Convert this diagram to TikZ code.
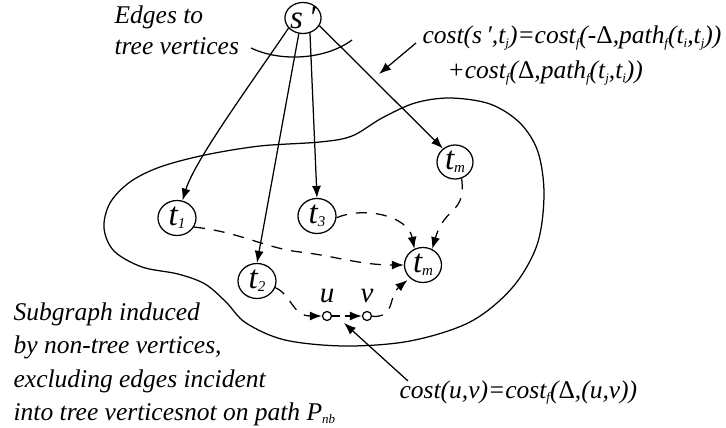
\documentclass[tikz,border=0pt]{standalone}
\usepackage{fontspec}
\setmainfont{Liberation Serif}
\usetikzlibrary{arrows.meta,shapes.geometric}
% small lowered index, as in t_i or cost_f
\newcommand\lsub[1]{\raisebox{-0.12em}{\fontsize{13}{13}\selectfont #1}}
\newcommand\nsub[1]{\raisebox{-0.1em}{\fontsize{15}{15}\selectfont #1}}
\newcommand\updelta{{\upshape Δ}}
\begin{document}
\begin{tikzpicture}[x=1pt,y=-1pt,line width=1.25pt,
  tv/.style={draw, ellipse, minimum width=38pt, minimum height=35pt, inner sep=0pt,
             font=\fontsize{33}{33}\selectfont\itshape},
  sm/.style={draw, circle, minimum size=9pt, inner sep=0pt, fill=white},
  arr/.style={-{Latex[length=12pt,width=9pt]}},
  dsh/.style={dash pattern=on 11pt off 9pt},
  txt/.style={font=\fontsize{25.5}{30}\selectfont\itshape, anchor=base west, inner sep=0pt},
  lbl/.style={font=\fontsize{29}{29}\selectfont\itshape, inner sep=0pt}]
\useasboundingbox (0,0) rectangle (726,428);

% region of non-tree vertices
\draw plot[smooth cycle, tension=0.55] coordinates {
  (450,98) (490,104) (520,123) (538,152) (544,195) (537,245) (512,288)
  (470,322) (410,341) (345,346) (285,340) (246,323) (226,302) (205,284)
  (178,274) (142,267) (114,251) (104,228) (110,203) (130,182) (160,167)
  (205,155) (260,146) (320,142) (352,136) (382,118) (415,103)};

% vertices
\node[tv, minimum width=33pt, minimum height=30pt] (s) at (303,18) {s\,′};
\node[tv] (t1) at (177,218) {t\nsub{1}};
\node[tv] (t2) at (257,281) {t\nsub{2}};
\node[tv] (t3) at (317,216) {t\nsub{3}};
\node[tv, minimum width=36pt, minimum height=34pt] (tmA) at (455,162) {t\nsub{m}};
\node[tv, minimum width=37pt] (tmB) at (423,265) {t\nsub{m}};
\node[sm] (u) at (327,316) {};
\node[sm] (v) at (367,316) {};
\node[lbl] (ul) at (327,296) {u};
\node[lbl] (vl) at (367,296) {v};

% edges from s' to the tree vertices
\draw[arr] (s.-145) .. controls (250,85) and (195,160) .. (t1);
\draw[arr] (s.-105) -- (t2.north);
\draw[arr] (s.-65) -- (t3.north);
\draw[arr] (s.-25) -- (tmA.132);

% arc marking the edges to tree vertices
\coordinate (arcA) at (251,48);
\coordinate (arcB) at (352,40);
\draw (arcA) .. controls (280,62) and (325,60) .. (arcB);

% dashed paths inside the region
\draw[arr, dsh] (t1.-28) .. controls (240,232) and (265,248) .. (300,252)
  .. controls (335,256) and (360,265) .. (tmB.west);
\draw[arr, dsh] (t3.-5) .. controls (365,206) and (408,216) .. (tmB.118);
\draw[arr, dsh] (tmA.-68) .. controls (466,215) and (445,205) .. (tmB.60);
\draw[arr, dsh] (t2.-20) .. controls (292,295) and (292,316) .. (u);
\draw[arr, dash pattern=on 8pt off 5pt] (u) -- (v);
\draw[arr, dsh, shorten >=3pt] (v) .. controls (396,318) and (388,296) .. (tmB.-135);

% labels
\node[txt] (e1) at (114,24) {Edges to};
\node[txt] (e2) at (114,55) {tree vertices};

\node[txt] (f1) at (422,44) {cost(s\,′,t\lsub{j})=cost\lsub{f}(-\updelta,path\lsub{f}(t\lsub{i},t\lsub{j}))};
\node[txt] (f2) at (447,79) {+cost\lsub{f}(\updelta,path\lsub{f}(t\lsub{j},t\lsub{i}))};
\coordinate (ftip) at (379,74);
\draw[arr] ([xshift=-6pt,yshift=1pt]f1.base west) -- (ftip);

\node[txt] (c1) at (399,398) {cost(u,v)=cost\lsub{f}(\updelta,(u,v))};
\coordinate (ctail) at (408,381);
\coordinate (ctip) at (344,323);
\draw[arr] (ctail) -- (ctip);

\node[txt] (g1) at (13,320) {Subgraph induced};
\node[txt] (g2) at (13,353) {by non-tree vertices,};
\node[txt] (g3) at (13,387) {excluding edges incident};
\node[txt] (g4) at (13,420) {into tree verticesnot on path P\lsub{nb}};
\end{tikzpicture}
\end{document}
